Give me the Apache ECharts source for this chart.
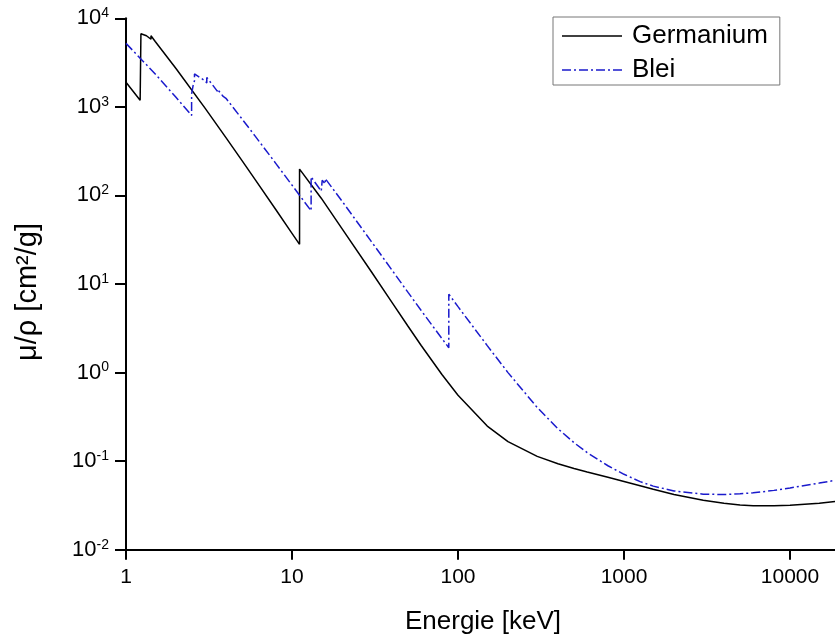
<!DOCTYPE html>
<html><head><meta charset="utf-8">
<script src="https://cdn.jsdelivr.net/npm/echarts@6/dist/echarts.min.js"></script>
<style>html,body{margin:0;padding:0;background:#fff}#c{width:835px;height:639px}</style>
</head><body><div id="c"></div>
<script>
// Energies in keV, mass attenuation coefficient mu/rho in cm^2/g
const geEnergy = [1.0, 1.103, 1.2167, 1.23, 1.3284, 1.4143, 1.4143, 1.5, 2, 3, 4, 5, 6, 8, 10, 11.103, 11.103, 15, 20, 30, 40, 50, 60, 80, 100, 150, 200, 300, 400, 500, 600, 800, 1000, 1250, 1500, 2000, 3000, 4000, 5000, 6000, 8000, 10000, 15000, 20000];
const geMu = [1893, 1502, 1190, 6698, 6348, 5800, 6350, 5475, 2711, 961.3, 449.7, 247.2, 150.9, 68.9, 37.34, 28.06, 198.3, 93.07, 42.22, 13.85, 6.207, 3.335, 2.023, 0.9501, 0.555, 0.2491, 0.1661, 0.1131, 0.0936, 0.08275, 0.07545, 0.06566, 0.05901, 0.05275, 0.04815, 0.0421, 0.03614, 0.03337, 0.03205, 0.03145, 0.03133, 0.03182, 0.03355, 0.03561];
const pbEnergy = [1.0, 1.5, 2.0, 2.484, 2.484, 2.5343, 2.5856, 2.5856, 3.0, 3.0664, 3.0664, 3.3013, 3.5542, 3.5542, 3.8507, 3.8507, 4, 5, 6, 8, 10, 13.035, 13.035, 15.0, 15.2, 15.2, 15.861, 15.861, 20, 30, 40, 50, 60, 80, 88.0, 88.0, 100, 150, 200, 300, 400, 500, 600, 800, 1000, 1250, 1500, 2000, 3000, 4000, 5000, 6000, 8000, 10000, 15000, 20000];
const pbMu = [5210, 2356, 1285, 800.6, 1397, 1726, 1974, 2355, 1965, 1857, 2146, 1796, 1496, 1585, 1311, 1368, 1251, 730.4, 467.2, 228.7, 130.6, 67.01, 162.1, 111.6, 107.8, 148.5, 134.4, 154.8, 86.36, 30.32, 14.36, 8.041, 5.021, 2.419, 1.910, 7.683, 5.549, 2.014, 0.9985, 0.4031, 0.2323, 0.1614, 0.1248, 0.0887, 0.07102, 0.05876, 0.05222, 0.04606, 0.04234, 0.04197, 0.04272, 0.04391, 0.04675, 0.04972, 0.05658, 0.06206];
const seriesNames = ['Germanium', 'Blei'];
const xAxisTitle = 'Energie [keV]';
const yAxisTitle = 'μ/ρ [cm²/g]';

const FONT = 'Arial, "Liberation Sans", sans-serif';
const zip = (xs, ys) => xs.map((x, i) => [x, ys[i]]);

// legend sample icons: solid line and dash-dot line (60 x 1.5)
const solidIcon = 'path://M0,0L60,0L60,1.5L0,1.5Z';
const dashDotIcon = 'path://' + [[0, 9], [12, 14], [17, 26], [29, 31], [34, 43], [46, 48], [51, 60]]
  .map(([a, b]) => `M${a},0L${b},0L${b},1.5L${a},1.5Z`).join('');

const chart = echarts.init(document.getElementById('c'), null, {renderer: 'canvas'});
chart.setOption({
  animation: false,
  backgroundColor: '#fff',
  grid: {left: 126, top: 18.3, width: 714, height: 531.4, containLabel: false, outerBoundsMode: 'none'},
  legend: {
    orient: 'vertical', left: 553, top: 17,
    padding: [4, 12, 0, 9], itemGap: 4, itemWidth: 60, itemHeight: 14,
    borderColor: '#777', borderWidth: 1, borderRadius: 0, backgroundColor: '#fff',
    textStyle: {fontFamily: FONT, fontSize: 26, color: '#000', lineHeight: 30, padding: [0, 0, 0, 5]},
    data: [
      {name: seriesNames[0], icon: solidIcon, itemStyle: {color: '#000'}},
      {name: seriesNames[1], icon: dashDotIcon, itemStyle: {color: '#1a1acc'}}
    ]
  },
  xAxis: {
    type: 'log', logBase: 10, min: 1, max: 20000, splitNumber: 5,
    name: xAxisTitle, nameLocation: 'middle', nameGap: 59,
    nameTextStyle: {fontFamily: FONT, fontSize: 26, color: '#000'},
    axisLine: {show: true, onZero: false, lineStyle: {color: '#000', width: 2}},
    axisTick: {show: true, inside: false, length: 10, lineStyle: {color: '#000', width: 2}},
    minorTick: {show: false},
    splitLine: {show: false},
    axisLabel: {fontFamily: FONT, fontSize: 21, color: '#000', margin: 17, showMaxLabel: false,
      formatter: v => String(Math.round(v))}
  },
  yAxis: {
    type: 'log', logBase: 10, min: 0.01, max: 10000, splitNumber: 6,
    name: yAxisTitle, nameLocation: 'middle', nameGap: 84,
    nameTextStyle: {fontFamily: FONT, fontSize: 29, color: '#000', padding: [0, 16, 0, 0]},
    axisLine: {show: true, onZero: false, lineStyle: {color: '#000', width: 2}},
    axisTick: {show: true, inside: false, length: 11, lineStyle: {color: '#000', width: 2}},
    splitLine: {show: false},
    axisLabel: {
      margin: 17, color: '#000',
      formatter: v => '{b|10}{s|' + Math.round(Math.log10(v)) + '}',
      rich: {
        b: {fontFamily: FONT, fontSize: 22, color: '#000', lineHeight: 24},
        s: {fontFamily: FONT, fontSize: 14, color: '#000', lineHeight: 14, verticalAlign: 'top'}
      }
    }
  },
  series: [
    {name: seriesNames[0], type: 'line', data: zip(geEnergy, geMu), symbol: 'none', smooth: false,
      lineStyle: {color: '#000', width: 1.5}, itemStyle: {color: '#000'}},
    {name: seriesNames[1], type: 'line', data: zip(pbEnergy, pbMu), symbol: 'none', smooth: false,
      lineStyle: {color: '#1a1acc', width: 1.5, type: [9, 3, 2, 3]}, itemStyle: {color: '#1a1acc'}}
  ]
});
</script></body></html>
